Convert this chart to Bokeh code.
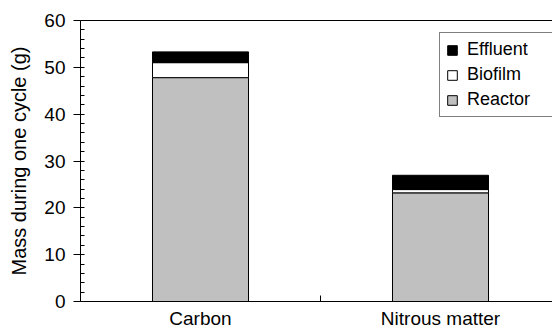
from bokeh.plotting import figure
from bokeh.models import (Range1d, LinearAxis, FixedTicker, SingleIntervalTicker,
                          Legend, LegendItem, ColumnDataSource)
from bokeh.embed import file_html
from bokeh.resources import INLINE

categories = ["Carbon", "Nitrous matter"]
x_pos = [0.5, 1.5]
separator = [1.0]
reactor = [47.8, 23.2]
biofilm = [3.2, 0.7]
effluent = [2.3, 3.05]
series = ["Reactor", "Biofilm", "Effluent"]
colors = ["#c0c0c0", "#ffffff", "#000000"]
y_max = 60

FONT = "Liberation Sans"

source = ColumnDataSource(dict(x=x_pos, Reactor=reactor, Biofilm=biofilm, Effluent=effluent))

p = figure(width=552, height=331, x_range=Range1d(0, 472 / 240), y_range=Range1d(0, y_max),
           output_backend="svg", toolbar_location=None,
           min_border_left=80, min_border_right=0, min_border_top=20, min_border_bottom=30)
p.grid.visible = False
p.outline_line_color = None

renderers = p.vbar_stack(series, x="x", width=0.4, source=source,
                         fill_color=colors, line_color="black", line_width=1)

# y axis
ya = p.yaxis[0]
ya.ticker = SingleIntervalTicker(interval=10, num_minor_ticks=5)
ya.axis_label = "Mass during one cycle (g)"
ya.axis_label_text_font = FONT
ya.axis_label_text_font_style = "normal"
ya.axis_label_text_font_size = "20px"
ya.axis_label_text_color = "black"
ya.axis_label_standoff = 11
ya.major_label_text_font = FONT
ya.major_label_text_font_size = "19px"
ya.major_label_standoff = 8
ya.major_tick_out = 7
ya.major_tick_in = 0
ya.minor_tick_in = 4
ya.minor_tick_out = 0
ya.axis_line_color = "black"
ya.major_tick_line_color = "black"
ya.minor_tick_line_color = "black"
ya.major_label_text_color = "black"

# x axis: category names at bar centres, separator tick between them
xa = p.xaxis[0]
xa.ticker = FixedTicker(ticks=x_pos, minor_ticks=separator)
xa.major_label_overrides = {x: c for x, c in zip(x_pos, categories)}
xa.major_label_text_font = FONT
xa.major_label_text_font_size = "19px"
xa.major_label_text_color = "black"
xa.major_label_standoff = 6
xa.major_tick_line_color = None
xa.major_tick_out = 0
xa.major_tick_in = 0
xa.minor_tick_in = 6
xa.minor_tick_out = 0
xa.minor_tick_line_color = "black"
xa.axis_line_color = "black"

# top border line
top = LinearAxis(ticker=FixedTicker(ticks=[]), major_label_text_font_size="0px",
                 major_tick_line_color=None, minor_tick_line_color=None,
                 axis_line_color="black", major_label_standoff=0)
p.add_layout(top, "above")

items = [LegendItem(label=s, renderers=[r]) for s, r in zip(series, renderers)][::-1]
legend = Legend(items=items, location=(359, 184),
                label_text_font=FONT, label_text_font_size="18px", label_text_color="black",
                glyph_width=12, glyph_height=12, label_standoff=9,
                label_height=20, label_width=86, spacing=4, padding=6, margin=0,
                border_line_color="black", border_line_width=1,
                background_fill_alpha=1)
p.add_layout(legend)

open("out.html", "w").write(file_html(p, INLINE))
